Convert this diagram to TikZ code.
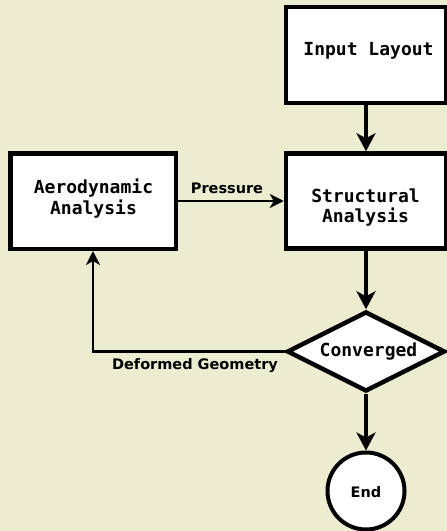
\documentclass[tikz,border=0pt]{standalone}
\usepackage{fontspec}
\setmainfont{DejaVu Sans}
\newfontfamily\monofont{DejaVu Sans Mono}
\usetikzlibrary{arrows.meta,shapes.geometric}
\definecolor{bgcol}{RGB}{236,236,208}
\tikzset{
  box/.style={draw=black, fill=white, line width=4.5pt, rectangle, inner sep=0pt},
  decision/.style={draw=black, fill=white, line width=4.5pt, diamond, aspect=2, inner sep=0pt,
    minimum width=158pt, minimum height=80pt},
  terminal/.style={draw=black, fill=white, line width=4pt, circle, inner sep=0pt,
    minimum size=77pt},
  mtxt/.style={anchor=base, inner sep=0pt, font=\monofont\bfseries\fontsize{18}{21}\selectfont},
  stxt/.style={anchor=base, inner sep=0pt, font=\bfseries\fontsize{14.5}{17}\selectfont},
  thickarrow/.style={line width=4.5pt, -{Stealth[length=18pt,width=19pt,inset=5pt]}},
  thinarrow/.style={line width=2.3pt, -{Stealth[length=14pt,width=14pt,inset=4pt]}}
}
\begin{document}
\begin{tikzpicture}[x=1pt,y=-1pt]
\fill[bgcol] (0,0) rectangle (447,531);
\useasboundingbox (0,0) rectangle (447,531);
\node[box, minimum width=160pt, minimum height=96pt] (in) at (366,55) {};
\node[box, minimum width=160pt, minimum height=95pt] (sa) at (366,201) {};
\node[box, minimum width=165.5pt, minimum height=95.5pt] (aero) at (93,201) {};
\node[decision] (conv) at (366,351.5) {};
\node[terminal] (end) at (366,491) {};
\node[mtxt] (tin) at (368.5,55) {Input Layout};
\node[mtxt] (tsa1) at (365.5,202) {Structural};
\node[mtxt] (tsa2) at (365.5,222) {Analysis};
\node[mtxt] (tae1) at (93.5,193) {Aerodynamic};
\node[mtxt] (tae2) at (93.5,214) {Analysis};
\node[mtxt] (tcv) at (368.5,356.5) {Converged};
\node[stxt] (tend) at (366,497) {End};
\draw[thickarrow] (in.south) -- (sa.north);
\draw[thickarrow] (sa.south) -- (conv.north);
\draw[thickarrow] (conv.south) -- (end.north);
\draw[thinarrow] (aero.east) -- (sa.west);
\node[stxt] (pl) at (227,193) {Pressure};
\draw[thinarrow] (conv.west) -| (aero.south);
\node[stxt] (dl) at (195,369.5) {Deformed Geometry};
\end{tikzpicture}
\end{document}
